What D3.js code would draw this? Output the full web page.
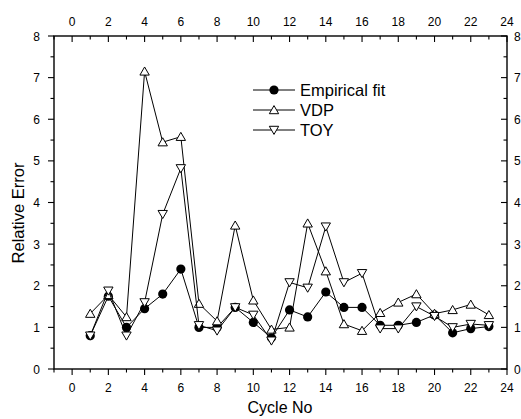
<!DOCTYPE html>
<html><head><meta charset="utf-8">
<script src="https://cdn.jsdelivr.net/npm/d3@7"></script>
<style>body{margin:0;background:#fff}svg{display:block;font-family:"Liberation Sans",Arial,sans-serif}</style>
</head><body><svg id="c" width="521" height="419"></svg>
<script>
const cycles = [1,2,3,4,5,6,7,8,9,10,11,12,13,14,15,16,17,18,19,20,21,22,23];
const empirical = [0.8,1.75,1.0,1.45,1.8,2.4,1.0,1.0,1.48,1.12,0.75,1.42,1.25,1.85,1.48,1.48,1.05,1.05,1.12,1.3,0.87,0.97,1.02];
const vdp = [1.33,1.78,1.25,7.15,5.45,5.58,1.57,1.15,3.45,1.65,0.95,1.0,3.5,2.35,1.08,0.92,1.35,1.6,1.8,1.33,1.42,1.55,1.3];
const toy = [0.8,1.88,0.8,1.6,3.72,4.82,1.05,0.92,1.48,1.3,0.68,2.08,1.95,3.42,2.08,2.3,0.97,0.97,1.5,1.27,1.0,1.08,1.05];
const xTicks = [0,2,4,6,8,10,12,14,16,18,20,22,24];
const yTicks = [0,1,2,3,4,5,6,7,8];
const seriesNames = ["Empirical fit","VDP","TOY"];

const svg = d3.select("#c");
const L=54, R=507, T=36, B=369;
const x = d3.scaleLinear().domain([-1,24]).range([L,R]);
const y = d3.scaleLinear().domain([0,8]).range([B,T]);
const xMinor = d3.range(-1,25,1).filter(v=>v%2!==0);
const yMinor = d3.range(0.5,8,1);

const g = svg.append("g");
g.append("rect").attr("x",L).attr("y",T).attr("width",R-L).attr("height",B-T)
 .attr("fill","none").attr("stroke","#000").attr("stroke-width",1.4);

const tk = g.append("g").attr("stroke","#000").attr("stroke-width",1.1);
xTicks.forEach(v=>tk.append("line").attr("x1",x(v)).attr("x2",x(v)).attr("y1",B).attr("y2",B+6));
xMinor.forEach(v=>tk.append("line").attr("x1",x(v)).attr("x2",x(v)).attr("y1",B).attr("y2",B+3.5));
xTicks.forEach(v=>tk.append("line").attr("x1",x(v)).attr("x2",x(v)).attr("y1",T).attr("y2",T+6));
xMinor.forEach(v=>tk.append("line").attr("x1",x(v)).attr("x2",x(v)).attr("y1",T).attr("y2",T+3.5));
yTicks.forEach(v=>tk.append("line").attr("x1",L-6).attr("x2",L).attr("y1",y(v)).attr("y2",y(v)));
yMinor.forEach(v=>tk.append("line").attr("x1",L-3.5).attr("x2",L).attr("y1",y(v)).attr("y2",y(v)));
yTicks.forEach(v=>tk.append("line").attr("x1",R-6).attr("x2",R).attr("y1",y(v)).attr("y2",y(v)));
yMinor.forEach(v=>tk.append("line").attr("x1",R-3.5).attr("x2",R).attr("y1",y(v)).attr("y2",y(v)));

const fs = 12;
xTicks.forEach(v=>{
  g.append("text").attr("x",x(v)).attr("y",B+23).attr("text-anchor","middle").attr("font-size",fs).text(v);
  g.append("text").attr("x",x(v)).attr("y",T-10).attr("text-anchor","middle").attr("font-size",fs).text(v);
});
yTicks.forEach(v=>{
  g.append("text").attr("x",L-14).attr("y",y(v)+4.5).attr("text-anchor","end").attr("font-size",fs).text(v);
  g.append("text").attr("x",R+7).attr("y",y(v)+4.5).attr("text-anchor","start").attr("font-size",fs).text(v);
});
g.append("text").attr("x",280).attr("y",413).attr("text-anchor","middle").attr("font-size",16).text("Cycle No");
g.append("text").attr("transform",`translate(23.5,213) rotate(-90)`).attr("text-anchor","middle").attr("font-size",16.5).text("Relative Error");

const line = d3.line().x((d,i)=>x(cycles[i])).y(d=>y(d));
const triUp = d3.symbol().type(d3.symbolTriangle).size(38);
function drawMarker(sel, kind, cx, cy){
  if(kind===0){
    sel.append("circle").attr("cx",cx).attr("cy",cy).attr("r",4.6).attr("fill","#000");
  } else {
    sel.append("path").attr("d",triUp()).attr("transform",`translate(${cx},${kind===1?cy+1:cy-1}) ${kind===2?"rotate(180)":""}`)
      .attr("fill","#fff").attr("stroke","#000").attr("stroke-width",1);
  }
}
const all=[empirical,vdp,toy];
[0,1,2].forEach(k=>{
  const s = g.append("g");
  s.append("path").datum(all[k]).attr("d",line).attr("fill","none").attr("stroke","#000").attr("stroke-width",1);
  all[k].forEach((d,i)=>drawMarker(s,k,x(cycles[i]),y(d)));
});

const lg = g.append("g");
seriesNames.forEach((n,i)=>{
  const yy = 90+i*20;
  lg.append("line").attr("x1",253).attr("x2",295).attr("y1",yy).attr("y2",yy).attr("stroke","#000").attr("stroke-width",1);
  drawMarker(lg,i,274,yy);
  lg.append("text").attr("x",300).attr("y",yy+6).attr("font-size",16.5).text(n);
});
</script></body></html>
